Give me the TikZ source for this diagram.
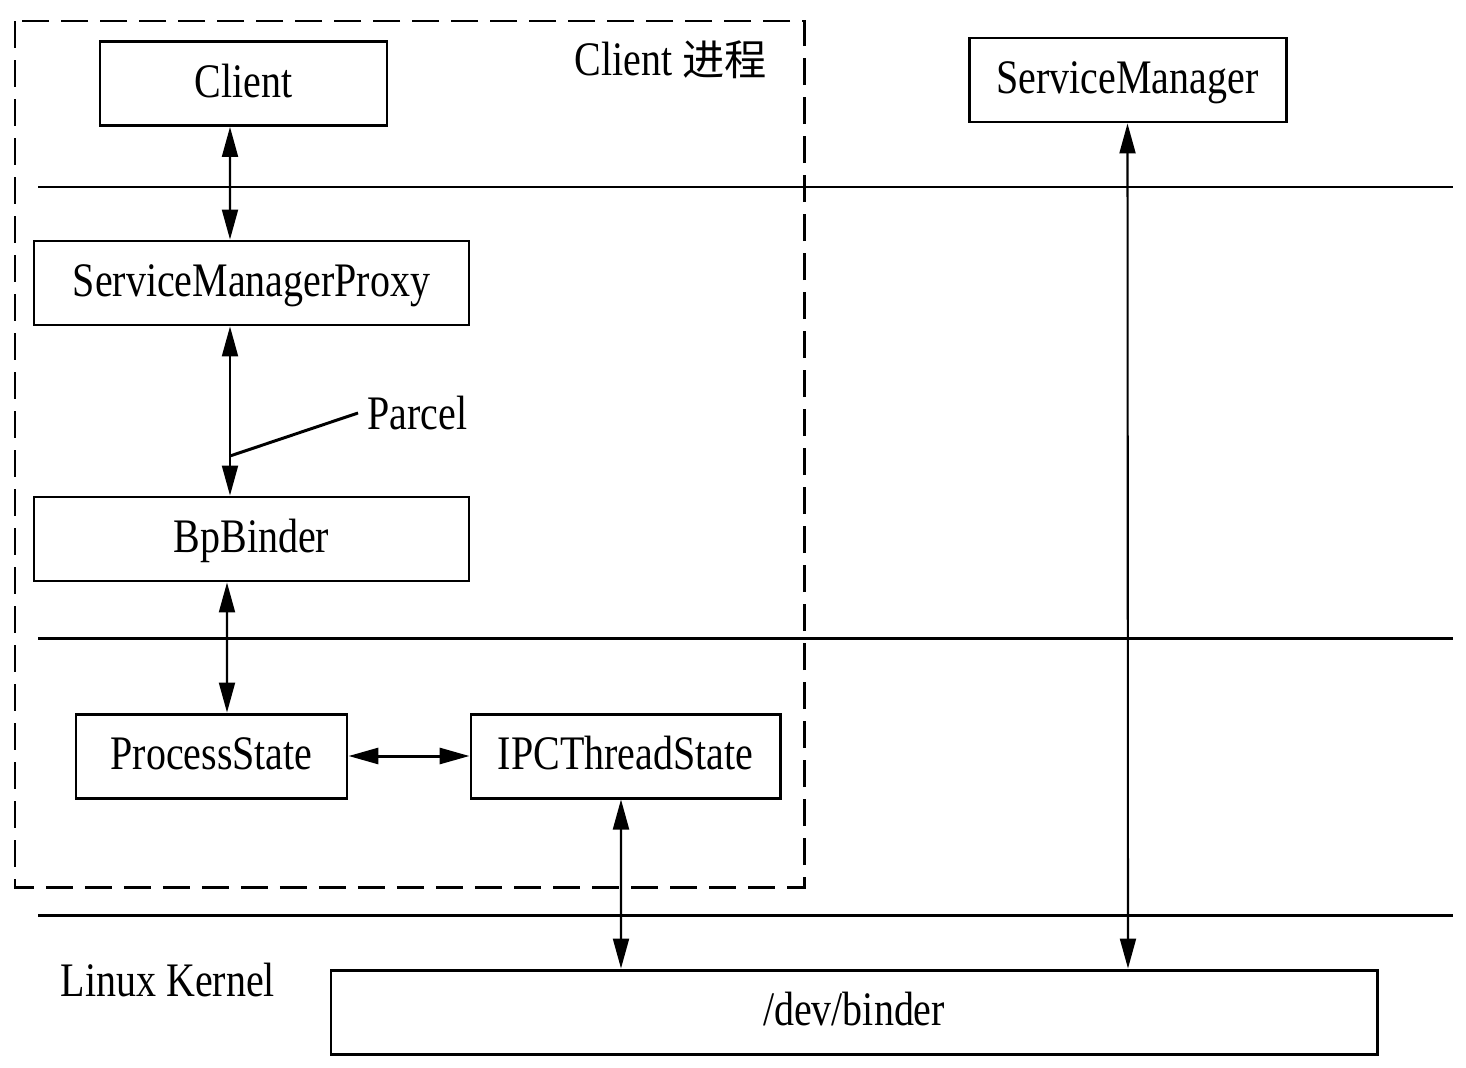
\documentclass[tikz,border=0pt]{standalone}
\usepackage{fontspec}
\setmainfont{Liberation Serif}[FakeStretch=0.83]
\newfontfamily\cjk{Noto Sans CJK SC}
\usepackage{tikz}
\usetikzlibrary{positioning}
\usetikzlibrary{arrows.meta}

\begin{document}
\begin{tikzpicture}[
					boxnode/.style={rectangle, draw=black, line width=0.85pt, fill=white, minimum height=8.4mm, inner sep=0pt, text height=3.4mm, text depth=0.7mm, font=\fontsize{13.7pt}{16pt}\selectfont},
					textnode/.style={inner sep=0pt, font=\fontsize{13.7pt}{16pt}\selectfont},
					twoway/.style={line width=0.6pt, {Triangle[length=3mm,width=1.6mm]}-{Triangle[length=3mm,width=1.6mm]}},
					]
					\useasboundingbox (0,0) rectangle (14.66,-10.68);
					%Nodes
					\node[boxnode, minimum width=28.7mm]   (client)  at (2.435,-0.835)  {Client};
					\node[boxnode, minimum width=31.7mm]   (sm)      at (11.275,-0.80)  {ServiceManager};
					\node[boxnode, minimum width=43.5mm]   (smp)     at (2.515,-2.83)   {ServiceManagerProxy};
					\node[boxnode, minimum width=43.5mm]   (bp)      at (2.515,-5.39)   {BpBinder};
					\node[boxnode, minimum width=27.1mm]   (ps)      at (2.115,-7.56)   {ProcessState};
					\node[boxnode, minimum width=30.9mm]   (ipc)     at (6.255,-7.56)   {IPCThreadState};
					\node[boxnode, minimum width=104.6mm]  (bdr)     at (8.54,-10.12)   {/dev/binder};
					\node[textnode]                        (proc)    at (6.71,-0.60)    {Client {\cjk\fontsize{12pt}{14pt}\selectfont 进程}};
					\node[textnode]                        (kernel)  at (1.68,-9.80)    {Linux Kernel};
					\node[textnode, anchor=west, inner sep=0.9mm] (parcel) at (3.58,-4.13) {Parcel};
					\coordinate (pc) at (2.30,-4.56);

					%Frame
					\draw[line width=0.85pt, dash pattern=on 2.7mm off 1.2mm] (0.15,-0.21) rectangle (8.04,-8.87);
					\foreach \y in {1.87,6.38,9.15}
						\draw[line width=0.85pt] (0.38,-\y) -- (14.53,-\y);

					%Lines
					\draw[twoway] ([xshift=-1.35mm]client.south) -- ([xshift=-2.15mm]smp.north);
					\draw[twoway] ([xshift=-2.15mm]smp.south) -- ([xshift=-2.15mm]bp.north);
					\draw[twoway] ([xshift=-2.45mm]bp.south) -- ([xshift=1.55mm]ps.north);
					\draw[twoway, line width=0.85pt] (ps.east) -- (ipc.west);
					\draw[twoway] ([xshift=-0.45mm]ipc.south) -- ([xshift=-23.3mm]bdr.north);
					\draw[twoway] (sm.south) -- ([xshift=27.4mm]bdr.north);
					\draw[line width=0.85pt] (pc) -- (parcel.west);
				\end{tikzpicture}
\end{document}
